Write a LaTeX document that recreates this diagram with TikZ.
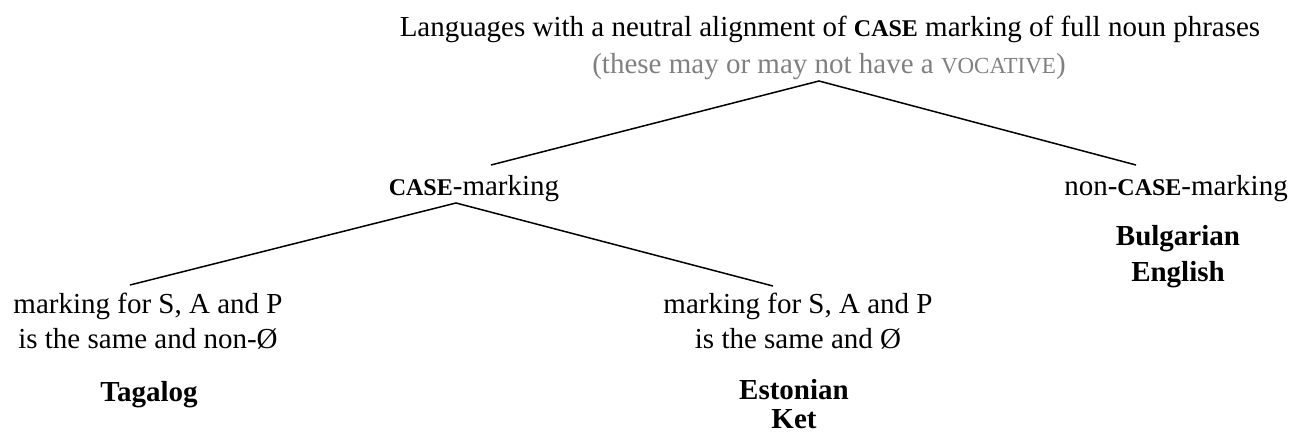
\documentclass[tikz,border=0pt]{standalone}
\usepackage{fontspec}
\setmainfont{Liberation Serif}
\usetikzlibrary{calc}
\newcommand{\casesc}{{\bfseries\fontsize{24}{28}\selectfont CASE}}
\newcommand{\vocsc}{{\fontsize{23}{28}\selectfont VOCATIVE}}
\begin{document}
\begin{tikzpicture}[x=1pt,y=-1pt,
  every node/.style={font=\fontsize{29}{35}\selectfont, inner sep=0pt, anchor=base},
  lang/.style={font=\bfseries\fontsize{29}{35}\selectfont},
  note/.style={text=black!50},
  edge/.style={line width=1.5pt}]
\useasboundingbox (0,0) rectangle (1294,434);
% top
\node (top) at (830,36) {Languages with a neutral alignment of \casesc\ marking of full noun phrases};
\node[note] (voc) at (829,73) {(these may or may not have a \vocsc)};
% level 2
\node (cm) at (474,195) {\casesc-marking};
\node (ncm) at (1176,195) {non-\casesc-marking};
\node[lang] (bul) at (1178,245) {Bulgarian};
\node[lang] (eng) at (1178,281) {English};
% level 3
\node (l1) at (148,313) {marking for S, A and P};
\node (l2) at (148,348) {is the same and non-Ø};
\node[lang] (tag) at (149,401) {Tagalog};
\node (r1) at (798,313) {marking for S, A and P};
\node (r2) at (798,348) {is the same and Ø};
\node[lang] (est) at (794,399) {Estonian};
\node[lang] (ket) at (794,428) {Ket};
% connector ends
\coordinate (apex1) at (819,81);
\coordinate (endcm) at (491,165);
\coordinate (endncm) at (1136,165);
\coordinate (apex2) at (456,203);
\coordinate (endl) at (130,285);
\coordinate (endr) at (773,286);
\draw[edge] (endcm) -- (apex1) -- (endncm);
\draw[edge] (endl) -- (apex2) -- (endr);
\end{tikzpicture}
\end{document}
